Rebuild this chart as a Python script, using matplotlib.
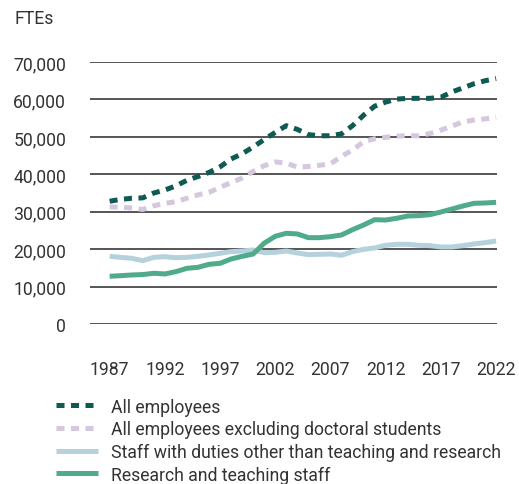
import numpy as np
import matplotlib.pyplot as plt

plt.rcParams['font.family'] = ['Roboto', 'DejaVu Sans']

## FTE series per year
years = list(range(1987, 2023))
all_employees = [32800, 33300, 33600, 33700, 35000, 35800, 36900, 38400, 39400, 40500,
                 42000, 44100, 45500, 47300, 49300, 51200, 53000, 52000, 50600, 50300,
                 50300, 50800, 53000, 55800, 58200, 59300, 60100, 60300, 60300, 60300,
                 60600, 62000, 63100, 64200, 65000, 65600]
excl_doctoral = [31300, 31200, 31000, 30600, 31600, 32200, 32700, 33600, 34500, 35200,
                 36500, 37800, 39000, 40800, 42300, 43300, 43000, 41900, 42100, 42400,
                 42800, 44800, 46500, 48700, 49500, 49900, 50200, 50300, 50300, 50900,
                 51800, 52900, 54000, 54500, 54800, 55200]
other_staff = [18080, 17800, 17550, 16920, 17800, 17980, 17710, 17800, 18080, 18440,
               18880, 19330, 19500, 19770, 19050, 19140, 19500, 18970, 18520, 18610,
               18700, 18350, 19330, 19950, 20310, 21020, 21290, 21290, 21020, 20930,
               20570, 20570, 20930, 21380, 21730, 22170]
research_teaching = [12740, 12900, 13090, 13200, 13540, 13360, 13980, 14870, 15140, 15940,
                     16210, 17360, 18080, 18700, 21600, 23430, 24230, 24050, 23060, 23060,
                     23330, 23780, 25200, 26450, 27870, 27780, 28240, 28850, 28940, 29200,
                     29920, 30720, 31530, 32240, 32330, 32500]

labels = ['All employees', 'All employees excluding doctoral students',
          'Staff with duties other than teaching and research', 'Research and teaching staff']
xticks = [1987, 1992, 1997, 2002, 2007, 2012, 2017, 2022]
yticks = list(range(0, 70001, 10000))

text_col = '#333333'
fs = 12.7
fig = plt.figure(figsize=(5.19, 4.85), dpi=100)
ax = fig.add_axes([0.173, 0.330, 0.785, 0.540])

lw = 3.6
l1, = ax.plot(years, all_employees, color='#0f5a52', lw=lw, dashes=(1.6, 1.3),
              dash_capstyle='butt', zorder=4)
l2, = ax.plot(years, excl_doctoral, color='#d5c7de', lw=lw, dashes=(1.6, 1.3),
              dash_capstyle='butt', zorder=3)
l3, = ax.plot(years, other_staff, color='#b4d1dc', lw=lw, solid_capstyle='butt', zorder=3)
l4, = ax.plot(years, research_teaching, color='#4fab8a', lw=lw, solid_capstyle='butt', zorder=4)

ax.set_xlim(1985.2, 2022.1)
ax.set_ylim(0, 70000)
ax.set_yticks(yticks)
ax.set_yticklabels([f'{v:,}' for v in yticks])
ax.set_xticks(xticks)
ax.grid(axis='y', color='#555555', lw=1.4, zorder=1)
for s in ax.spines.values():
    s.set_visible(False)
ax.tick_params(length=0, labelsize=fs, labelcolor=text_col)
ax.tick_params(axis='x', pad=26)
ax.tick_params(axis='y', pad=17)

fig.text(0.027, 0.961, 'FTEs', fontsize=fs, color=text_col, va='center')

fig.legend([l1, l2, l3, l4], labels, loc='upper left', bbox_to_anchor=(0.108, 0.178),
           frameon=False, fontsize=fs, handlelength=2.4, handletextpad=0.7,
           labelspacing=0.26, borderaxespad=0, borderpad=0, labelcolor=text_col)

fig.savefig('out.png', dpi=100)
